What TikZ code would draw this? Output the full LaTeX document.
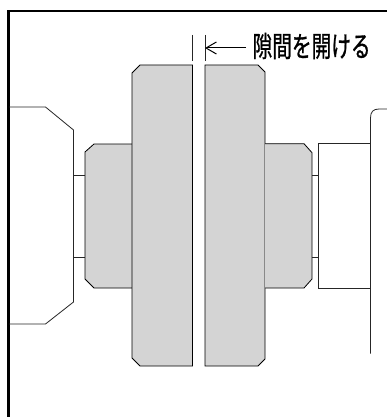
\documentclass[tikz,border=0pt]{standalone}
\usepackage{fontspec}
\newfontfamily\cjk[FakeBold=1.1]{Noto Sans CJK JP}
\usetikzlibrary{arrows.meta}
\tikzset{
  part/.style={draw=black,line width=0.8pt,fill=black!17,line join=miter},
  blank/.style={draw=black!85,line width=0.8pt},
  frameline/.style={draw=black,line width=2.4pt},
  note/.style={font=\cjk\fontsize{28.5pt}{29pt}\selectfont,inner sep=0pt,anchor=west,xscale=0.69}
}
\begin{document}
\begin{tikzpicture}[x=1pt,y=-1pt]
\useasboundingbox (0,0) rectangle (387,417);
\fill[white] (0,0) rectangle (387,417);
% frame
\draw[frameline] (8.5,417) -- (8.5,11) -- (387,11);
% left shaft block
\draw[blank] (9,107) -- (45.5,107) -- (73.5,130) -- (73.5,302) -- (45.5,324) -- (9,324);
% left hub
\draw[part] (132,144) -- (94,144) -- (85,152) -- (85,279) -- (94,288) -- (132,288);
\draw[blank] (73.5,175) -- (85,175);
\draw[blank] (73.5,257) -- (85,257);
% plates
\draw[part] (192.5,65) -- (140,65) -- (132,73) -- (132,358) -- (140,366) -- (192.5,366) -- cycle;
\draw[part] (205,65) -- (258,65) -- (265,72) -- (265,359) -- (258,366) -- (205,366) -- cycle;
% right hub
\draw[part] (265,143.7) -- (304,143.7) -- (312,152.7) -- (312,279) -- (304,288) -- (265,288);
\draw[blank] (312,175) -- (318,175);
\draw[blank] (312,257) -- (318,257);
% right block
\draw[blank] (318,143.7) rectangle (370.5,288);
\draw[blank] (370.5,353.5) -- (370.5,118) .. controls (370.5,112) and (373,109) .. (379,109) -- (387,109);
% gap marks
\coordinate (gl) at (192,35);
\coordinate (glb) at (192,61);
\coordinate (gr) at (205,35);
\coordinate (grb) at (205,61);
\draw[blank] (gl) -- (glb);
\draw[blank] (gr) -- (grb);
\node[note] (lab) at (252.5,46) {隙間を開ける};
\coordinate (tip) at (205,48);
\draw[draw=black,line width=1pt,-{Straight Barb[length=10pt,width=13pt,angle=60:12pt]}] (246,48) -- (tip);
\end{tikzpicture}
\end{document}
